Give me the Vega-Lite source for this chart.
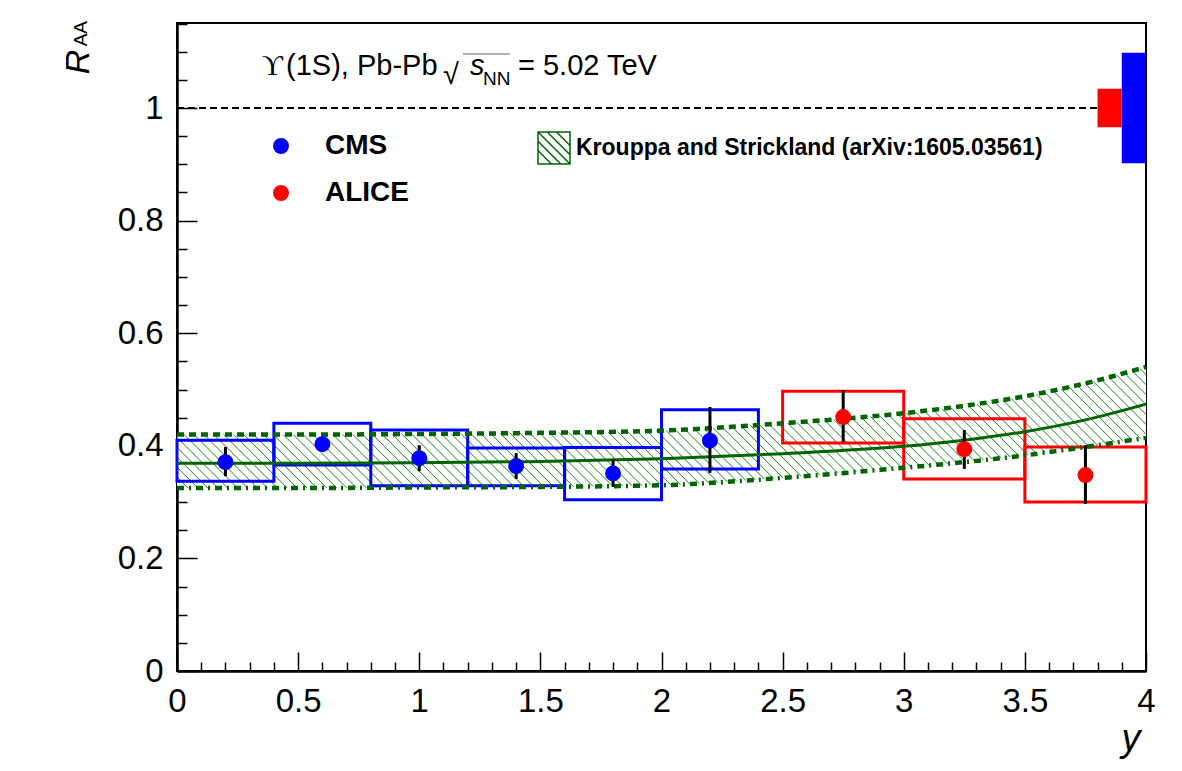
{
  "$schema": "https://vega.github.io/schema/vega-lite/v6.json",
  "width": 969,
  "height": 648,
  "autosize": {"type": "none"},
  "padding": {"left": 177, "top": 23, "right": 36, "bottom": 100},
  "background": "white",
  "config": {
    "view": {"stroke": "black", "strokeWidth": 2},
    "font": "Liberation Sans",
    "text": {"font": "Liberation Sans", "color": "black"},
    "axis": {"domainColor": "black", "domainWidth": 2, "tickColor": "black", "tickWidth": 1.5, "grid": false, "labelOverlap": false, "labelFlush": false}
  },
  "resolve": {"axis": {"x": "independent", "y": "independent"}},
  "datasets": {
    "meas": [
      {"exp": "CMS", "rap": 0.2, "rap_lo": 0.0, "rap_hi": 0.4, "raa": 0.371, "stat_lo": 0.346, "stat_hi": 0.398, "syst_lo": 0.337, "syst_hi": 0.410},
      {"exp": "CMS", "rap": 0.6, "rap_lo": 0.4, "rap_hi": 0.8, "raa": 0.403, "stat_lo": 0.390, "stat_hi": 0.416, "syst_lo": 0.366, "syst_hi": 0.440},
      {"exp": "CMS", "rap": 1.0, "rap_lo": 0.8, "rap_hi": 1.2, "raa": 0.378, "stat_lo": 0.355, "stat_hi": 0.401, "syst_lo": 0.329, "syst_hi": 0.428},
      {"exp": "CMS", "rap": 1.4, "rap_lo": 1.2, "rap_hi": 1.6, "raa": 0.364, "stat_lo": 0.341, "stat_hi": 0.387, "syst_lo": 0.329, "syst_hi": 0.396},
      {"exp": "CMS", "rap": 1.8, "rap_lo": 1.6, "rap_hi": 2.0, "raa": 0.351, "stat_lo": 0.327, "stat_hi": 0.376, "syst_lo": 0.304, "syst_hi": 0.397},
      {"exp": "CMS", "rap": 2.2, "rap_lo": 2.0, "rap_hi": 2.4, "raa": 0.409, "stat_lo": 0.352, "stat_hi": 0.469, "syst_lo": 0.359, "syst_hi": 0.464},
      {"exp": "ALICE", "rap": 2.75, "rap_lo": 2.5, "rap_hi": 3.0, "raa": 0.451, "stat_lo": 0.407, "stat_hi": 0.499, "syst_lo": 0.405, "syst_hi": 0.497},
      {"exp": "ALICE", "rap": 3.25, "rap_lo": 3.0, "rap_hi": 3.5, "raa": 0.394, "stat_lo": 0.359, "stat_hi": 0.428, "syst_lo": 0.341, "syst_hi": 0.448},
      {"exp": "ALICE", "rap": 3.75, "rap_lo": 3.5, "rap_hi": 4.0, "raa": 0.348, "stat_lo": 0.297, "stat_hi": 0.401, "syst_lo": 0.300, "syst_hi": 0.398}
    ],
    "global": [
      {"exp": "ALICE", "rap_lo": 3.8, "rap_hi": 3.9, "lo": 0.966, "hi": 1.034},
      {"exp": "CMS", "rap_lo": 3.9, "rap_hi": 4.0, "lo": 0.902, "hi": 1.098}
    ],
    "model": [
      {"rap": 0.0, "lo": 0.325, "mid": 0.369, "hi": 0.420},
      {"rap": 0.5, "lo": 0.325, "mid": 0.369, "hi": 0.420},
      {"rap": 1.0, "lo": 0.326, "mid": 0.370, "hi": 0.421},
      {"rap": 1.5, "lo": 0.327, "mid": 0.372, "hi": 0.423},
      {"rap": 2.0, "lo": 0.330, "mid": 0.377, "hi": 0.427},
      {"rap": 2.5, "lo": 0.343, "mid": 0.386, "hi": 0.440},
      {"rap": 3.0, "lo": 0.361, "mid": 0.399, "hi": 0.458},
      {"rap": 3.25, "lo": 0.371, "mid": 0.410, "hi": 0.471},
      {"rap": 3.5, "lo": 0.383, "mid": 0.425, "hi": 0.488},
      {"rap": 3.75, "lo": 0.398, "mid": 0.446, "hi": 0.511},
      {"rap": 4.0, "lo": 0.414, "mid": 0.474, "hi": 0.540}
    ]
  },
  "layer": [
    {
      "data": {"name": "model"},
      "mark": {
        "type": "area",
        "interpolate": "monotone",
        "fill": {
          "gradient": "linear",
          "x1": 0, "y1": 1, "x2": 1.12, "y2": 0.86,
          "stops": [
            {"offset":0,"color":"#fff"},{"offset":0.001,"color":"#2d8f2d"},{"offset":0.002,"color":"#fff"},
            {"offset":0.009,"color":"#fff"},{"offset":0.01,"color":"#2d8f2d"},{"offset":0.011,"color":"#fff"},
            {"offset":0.018,"color":"#fff"},{"offset":0.019,"color":"#2d8f2d"},{"offset":0.02,"color":"#fff"},
            {"offset":0.027,"color":"#fff"},{"offset":0.028,"color":"#2d8f2d"},{"offset":0.029,"color":"#fff"},
            {"offset":0.036,"color":"#fff"},{"offset":0.037,"color":"#2d8f2d"},{"offset":0.038,"color":"#fff"},
            {"offset":0.045,"color":"#fff"},{"offset":0.046,"color":"#2d8f2d"},{"offset":0.047,"color":"#fff"},
            {"offset":0.054,"color":"#fff"},{"offset":0.055,"color":"#2d8f2d"},{"offset":0.056,"color":"#fff"},
            {"offset":0.063,"color":"#fff"},{"offset":0.064,"color":"#2d8f2d"},{"offset":0.065,"color":"#fff"},
            {"offset":0.072,"color":"#fff"},{"offset":0.073,"color":"#2d8f2d"},{"offset":0.074,"color":"#fff"},
            {"offset":0.081,"color":"#fff"},{"offset":0.082,"color":"#2d8f2d"},{"offset":0.083,"color":"#fff"},
            {"offset":0.09,"color":"#fff"},{"offset":0.091,"color":"#2d8f2d"},{"offset":0.092,"color":"#fff"},
            {"offset":0.099,"color":"#fff"},{"offset":0.1,"color":"#2d8f2d"},{"offset":0.101,"color":"#fff"},
            {"offset":0.108,"color":"#fff"},{"offset":0.109,"color":"#2d8f2d"},{"offset":0.11,"color":"#fff"},
            {"offset":0.117,"color":"#fff"},{"offset":0.118,"color":"#2d8f2d"},{"offset":0.119,"color":"#fff"},
            {"offset":0.126,"color":"#fff"},{"offset":0.127,"color":"#2d8f2d"},{"offset":0.128,"color":"#fff"},
            {"offset":0.135,"color":"#fff"},{"offset":0.136,"color":"#2d8f2d"},{"offset":0.137,"color":"#fff"},
            {"offset":0.144,"color":"#fff"},{"offset":0.145,"color":"#2d8f2d"},{"offset":0.146,"color":"#fff"},
            {"offset":0.153,"color":"#fff"},{"offset":0.154,"color":"#2d8f2d"},{"offset":0.155,"color":"#fff"},
            {"offset":0.162,"color":"#fff"},{"offset":0.163,"color":"#2d8f2d"},{"offset":0.164,"color":"#fff"},
            {"offset":0.171,"color":"#fff"},{"offset":0.172,"color":"#2d8f2d"},{"offset":0.173,"color":"#fff"},
            {"offset":0.18,"color":"#fff"},{"offset":0.181,"color":"#2d8f2d"},{"offset":0.182,"color":"#fff"},
            {"offset":0.189,"color":"#fff"},{"offset":0.19,"color":"#2d8f2d"},{"offset":0.191,"color":"#fff"},
            {"offset":0.198,"color":"#fff"},{"offset":0.199,"color":"#2d8f2d"},{"offset":0.2,"color":"#fff"},
            {"offset":0.207,"color":"#fff"},{"offset":0.208,"color":"#2d8f2d"},{"offset":0.209,"color":"#fff"},
            {"offset":0.216,"color":"#fff"},{"offset":0.217,"color":"#2d8f2d"},{"offset":0.218,"color":"#fff"},
            {"offset":0.225,"color":"#fff"},{"offset":0.226,"color":"#2d8f2d"},{"offset":0.227,"color":"#fff"},
            {"offset":0.234,"color":"#fff"},{"offset":0.235,"color":"#2d8f2d"},{"offset":0.236,"color":"#fff"},
            {"offset":0.243,"color":"#fff"},{"offset":0.244,"color":"#2d8f2d"},{"offset":0.245,"color":"#fff"},
            {"offset":0.252,"color":"#fff"},{"offset":0.253,"color":"#2d8f2d"},{"offset":0.254,"color":"#fff"},
            {"offset":0.261,"color":"#fff"},{"offset":0.262,"color":"#2d8f2d"},{"offset":0.263,"color":"#fff"},
            {"offset":0.27,"color":"#fff"},{"offset":0.271,"color":"#2d8f2d"},{"offset":0.272,"color":"#fff"},
            {"offset":0.279,"color":"#fff"},{"offset":0.28,"color":"#2d8f2d"},{"offset":0.281,"color":"#fff"},
            {"offset":0.288,"color":"#fff"},{"offset":0.289,"color":"#2d8f2d"},{"offset":0.29,"color":"#fff"},
            {"offset":0.297,"color":"#fff"},{"offset":0.298,"color":"#2d8f2d"},{"offset":0.299,"color":"#fff"},
            {"offset":0.306,"color":"#fff"},{"offset":0.307,"color":"#2d8f2d"},{"offset":0.308,"color":"#fff"},
            {"offset":0.315,"color":"#fff"},{"offset":0.316,"color":"#2d8f2d"},{"offset":0.317,"color":"#fff"},
            {"offset":0.324,"color":"#fff"},{"offset":0.325,"color":"#2d8f2d"},{"offset":0.326,"color":"#fff"},
            {"offset":0.333,"color":"#fff"},{"offset":0.334,"color":"#2d8f2d"},{"offset":0.335,"color":"#fff"},
            {"offset":0.342,"color":"#fff"},{"offset":0.343,"color":"#2d8f2d"},{"offset":0.344,"color":"#fff"},
            {"offset":0.351,"color":"#fff"},{"offset":0.352,"color":"#2d8f2d"},{"offset":0.353,"color":"#fff"},
            {"offset":0.36,"color":"#fff"},{"offset":0.361,"color":"#2d8f2d"},{"offset":0.362,"color":"#fff"},
            {"offset":0.369,"color":"#fff"},{"offset":0.37,"color":"#2d8f2d"},{"offset":0.371,"color":"#fff"},
            {"offset":0.378,"color":"#fff"},{"offset":0.379,"color":"#2d8f2d"},{"offset":0.38,"color":"#fff"},
            {"offset":0.387,"color":"#fff"},{"offset":0.388,"color":"#2d8f2d"},{"offset":0.389,"color":"#fff"},
            {"offset":0.396,"color":"#fff"},{"offset":0.397,"color":"#2d8f2d"},{"offset":0.398,"color":"#fff"},
            {"offset":0.405,"color":"#fff"},{"offset":0.406,"color":"#2d8f2d"},{"offset":0.407,"color":"#fff"},
            {"offset":0.414,"color":"#fff"},{"offset":0.415,"color":"#2d8f2d"},{"offset":0.416,"color":"#fff"},
            {"offset":0.423,"color":"#fff"},{"offset":0.424,"color":"#2d8f2d"},{"offset":0.425,"color":"#fff"},
            {"offset":0.432,"color":"#fff"},{"offset":0.433,"color":"#2d8f2d"},{"offset":0.434,"color":"#fff"},
            {"offset":0.441,"color":"#fff"},{"offset":0.442,"color":"#2d8f2d"},{"offset":0.443,"color":"#fff"},
            {"offset":0.45,"color":"#fff"},{"offset":0.451,"color":"#2d8f2d"},{"offset":0.452,"color":"#fff"},
            {"offset":0.459,"color":"#fff"},{"offset":0.46,"color":"#2d8f2d"},{"offset":0.461,"color":"#fff"},
            {"offset":0.468,"color":"#fff"},{"offset":0.469,"color":"#2d8f2d"},{"offset":0.47,"color":"#fff"},
            {"offset":0.477,"color":"#fff"},{"offset":0.478,"color":"#2d8f2d"},{"offset":0.479,"color":"#fff"},
            {"offset":0.486,"color":"#fff"},{"offset":0.487,"color":"#2d8f2d"},{"offset":0.488,"color":"#fff"},
            {"offset":0.495,"color":"#fff"},{"offset":0.496,"color":"#2d8f2d"},{"offset":0.497,"color":"#fff"},
            {"offset":0.504,"color":"#fff"},{"offset":0.505,"color":"#2d8f2d"},{"offset":0.506,"color":"#fff"},
            {"offset":0.513,"color":"#fff"},{"offset":0.514,"color":"#2d8f2d"},{"offset":0.515,"color":"#fff"},
            {"offset":0.522,"color":"#fff"},{"offset":0.523,"color":"#2d8f2d"},{"offset":0.524,"color":"#fff"},
            {"offset":0.531,"color":"#fff"},{"offset":0.532,"color":"#2d8f2d"},{"offset":0.533,"color":"#fff"},
            {"offset":0.54,"color":"#fff"},{"offset":0.541,"color":"#2d8f2d"},{"offset":0.542,"color":"#fff"},
            {"offset":0.549,"color":"#fff"},{"offset":0.55,"color":"#2d8f2d"},{"offset":0.551,"color":"#fff"},
            {"offset":0.558,"color":"#fff"},{"offset":0.559,"color":"#2d8f2d"},{"offset":0.56,"color":"#fff"},
            {"offset":0.567,"color":"#fff"},{"offset":0.568,"color":"#2d8f2d"},{"offset":0.569,"color":"#fff"},
            {"offset":0.576,"color":"#fff"},{"offset":0.577,"color":"#2d8f2d"},{"offset":0.578,"color":"#fff"},
            {"offset":0.585,"color":"#fff"},{"offset":0.586,"color":"#2d8f2d"},{"offset":0.587,"color":"#fff"},
            {"offset":0.594,"color":"#fff"},{"offset":0.595,"color":"#2d8f2d"},{"offset":0.596,"color":"#fff"},
            {"offset":0.603,"color":"#fff"},{"offset":0.604,"color":"#2d8f2d"},{"offset":0.605,"color":"#fff"},
            {"offset":0.612,"color":"#fff"},{"offset":0.613,"color":"#2d8f2d"},{"offset":0.614,"color":"#fff"},
            {"offset":0.621,"color":"#fff"},{"offset":0.622,"color":"#2d8f2d"},{"offset":0.623,"color":"#fff"},
            {"offset":0.63,"color":"#fff"},{"offset":0.631,"color":"#2d8f2d"},{"offset":0.632,"color":"#fff"},
            {"offset":0.639,"color":"#fff"},{"offset":0.64,"color":"#2d8f2d"},{"offset":0.641,"color":"#fff"},
            {"offset":0.648,"color":"#fff"},{"offset":0.649,"color":"#2d8f2d"},{"offset":0.65,"color":"#fff"},
            {"offset":0.657,"color":"#fff"},{"offset":0.658,"color":"#2d8f2d"},{"offset":0.659,"color":"#fff"},
            {"offset":0.666,"color":"#fff"},{"offset":0.667,"color":"#2d8f2d"},{"offset":0.668,"color":"#fff"},
            {"offset":0.675,"color":"#fff"},{"offset":0.676,"color":"#2d8f2d"},{"offset":0.677,"color":"#fff"},
            {"offset":0.684,"color":"#fff"},{"offset":0.685,"color":"#2d8f2d"},{"offset":0.686,"color":"#fff"},
            {"offset":0.693,"color":"#fff"},{"offset":0.694,"color":"#2d8f2d"},{"offset":0.695,"color":"#fff"},
            {"offset":0.702,"color":"#fff"},{"offset":0.703,"color":"#2d8f2d"},{"offset":0.704,"color":"#fff"},
            {"offset":0.711,"color":"#fff"},{"offset":0.712,"color":"#2d8f2d"},{"offset":0.713,"color":"#fff"},
            {"offset":0.72,"color":"#fff"},{"offset":0.721,"color":"#2d8f2d"},{"offset":0.722,"color":"#fff"},
            {"offset":0.729,"color":"#fff"},{"offset":0.73,"color":"#2d8f2d"},{"offset":0.731,"color":"#fff"},
            {"offset":0.738,"color":"#fff"},{"offset":0.739,"color":"#2d8f2d"},{"offset":0.74,"color":"#fff"},
            {"offset":0.747,"color":"#fff"},{"offset":0.748,"color":"#2d8f2d"},{"offset":0.749,"color":"#fff"},
            {"offset":0.756,"color":"#fff"},{"offset":0.757,"color":"#2d8f2d"},{"offset":0.758,"color":"#fff"},
            {"offset":0.765,"color":"#fff"},{"offset":0.766,"color":"#2d8f2d"},{"offset":0.767,"color":"#fff"},
            {"offset":0.774,"color":"#fff"},{"offset":0.775,"color":"#2d8f2d"},{"offset":0.776,"color":"#fff"},
            {"offset":0.783,"color":"#fff"},{"offset":0.784,"color":"#2d8f2d"},{"offset":0.785,"color":"#fff"},
            {"offset":0.792,"color":"#fff"},{"offset":0.793,"color":"#2d8f2d"},{"offset":0.794,"color":"#fff"},
            {"offset":0.801,"color":"#fff"},{"offset":0.802,"color":"#2d8f2d"},{"offset":0.803,"color":"#fff"},
            {"offset":0.81,"color":"#fff"},{"offset":0.811,"color":"#2d8f2d"},{"offset":0.812,"color":"#fff"},
            {"offset":0.819,"color":"#fff"},{"offset":0.82,"color":"#2d8f2d"},{"offset":0.821,"color":"#fff"},
            {"offset":0.828,"color":"#fff"},{"offset":0.829,"color":"#2d8f2d"},{"offset":0.83,"color":"#fff"},
            {"offset":0.837,"color":"#fff"},{"offset":0.838,"color":"#2d8f2d"},{"offset":0.839,"color":"#fff"},
            {"offset":0.846,"color":"#fff"},{"offset":0.847,"color":"#2d8f2d"},{"offset":0.848,"color":"#fff"},
            {"offset":0.855,"color":"#fff"},{"offset":0.856,"color":"#2d8f2d"},{"offset":0.857,"color":"#fff"},
            {"offset":0.864,"color":"#fff"},{"offset":0.865,"color":"#2d8f2d"},{"offset":0.866,"color":"#fff"},
            {"offset":0.873,"color":"#fff"},{"offset":0.874,"color":"#2d8f2d"},{"offset":0.875,"color":"#fff"},
            {"offset":0.882,"color":"#fff"},{"offset":0.883,"color":"#2d8f2d"},{"offset":0.884,"color":"#fff"},
            {"offset":0.891,"color":"#fff"},{"offset":0.892,"color":"#2d8f2d"},{"offset":0.893,"color":"#fff"},
            {"offset":0.9,"color":"#fff"},{"offset":0.901,"color":"#2d8f2d"},{"offset":0.902,"color":"#fff"},
            {"offset":0.909,"color":"#fff"},{"offset":0.91,"color":"#2d8f2d"},{"offset":0.911,"color":"#fff"},
            {"offset":0.918,"color":"#fff"},{"offset":0.919,"color":"#2d8f2d"},{"offset":0.92,"color":"#fff"},
            {"offset":0.927,"color":"#fff"},{"offset":0.928,"color":"#2d8f2d"},{"offset":0.929,"color":"#fff"},
            {"offset":0.936,"color":"#fff"},{"offset":0.937,"color":"#2d8f2d"},{"offset":0.938,"color":"#fff"},
            {"offset":0.945,"color":"#fff"},{"offset":0.946,"color":"#2d8f2d"},{"offset":0.947,"color":"#fff"},
            {"offset":0.954,"color":"#fff"},{"offset":0.955,"color":"#2d8f2d"},{"offset":0.956,"color":"#fff"},
            {"offset":0.963,"color":"#fff"},{"offset":0.964,"color":"#2d8f2d"},{"offset":0.965,"color":"#fff"},
            {"offset":0.972,"color":"#fff"},{"offset":0.973,"color":"#2d8f2d"},{"offset":0.974,"color":"#fff"},
            {"offset":0.981,"color":"#fff"},{"offset":0.982,"color":"#2d8f2d"},{"offset":0.983,"color":"#fff"},
            {"offset":0.99,"color":"#fff"},{"offset":0.991,"color":"#2d8f2d"},{"offset":0.992,"color":"#fff"}
          ]
        }
      },
      "encoding": {
        "x": {
          "field": "rap", "type": "quantitative",
          "scale": {"domain": [0, 4], "nice": false, "zero": false},
          "axis": {
            "orient": "bottom",
            "values": [0, 0.5, 1, 1.5, 2, 2.5, 3, 3.5, 4],
            "tickSize": -19,
            "labelExpr": "toString(datum.value)",
            "labelFont": "Liberation Sans", "labelFontSize": 33, "labelColor": "black",
            "labelPadding": 33,
            "title": "y", "titleFont": "Liberation Sans", "titleFontSize": 38, "titleFontStyle": "italic", "titleFontWeight": "normal",
            "titleColor": "black", "titleAlign": "right", "titleAnchor": "end", "titleBaseline": "alphabetic", "titleX": 963, "titleY": 79
          }
        },
        "y": {
          "field": "lo", "type": "quantitative",
          "scale": {"domain": [0, 1.151], "nice": false, "zero": false},
          "axis": {
            "orient": "left",
            "values": [0, 0.2, 0.4, 0.6, 0.8, 1],
            "tickSize": -20,
            "labelExpr": "toString(datum.value)",
            "labelFont": "Liberation Sans", "labelFontSize": 33, "labelColor": "black",
            "labelPadding": 34,
            "title": null
          }
        },
        "y2": {"field": "hi"}
      }
    },
    {
      "data": {"name": "meas"},
      "transform": [{"filter": "datum.exp == 'CMS'"}],
      "mark": {"type": "rect", "filled": false, "color": "#0000ff", "strokeWidth": 3},
      "encoding": {
        "x": {
          "field": "rap_lo", "type": "quantitative",
          "axis": {
            "orient": "bottom", "labels": false, "title": null, "tickSize": -9,
            "values": [0.1,0.2,0.3,0.4,0.6,0.7,0.8,0.9,1.1,1.2,1.3,1.4,1.6,1.7,1.8,1.9,2.1,2.2,2.3,2.4,2.6,2.7,2.8,2.9,3.1,3.2,3.3,3.4,3.6,3.7,3.8,3.9]
          }
        },
        "x2": {"field": "rap_hi"},
        "y": {
          "field": "syst_lo", "type": "quantitative",
          "axis": {
            "orient": "left", "labels": false, "title": null, "tickSize": -10,
            "values": [0.05,0.1,0.15,0.25,0.3,0.35,0.45,0.5,0.55,0.65,0.7,0.75,0.85,0.9,0.95,1.05,1.1,1.15]
          }
        },
        "y2": {"field": "syst_hi"}
      }
    },
    {
      "data": {"name": "meas"},
      "transform": [{"filter": "datum.exp == 'ALICE'"}],
      "mark": {"type": "rect", "filled": false, "color": "#ff0000", "strokeWidth": 3},
      "encoding": {
        "x": {"field": "rap_lo", "type": "quantitative", "axis": null},
        "x2": {"field": "rap_hi"},
        "y": {"field": "syst_lo", "type": "quantitative", "axis": null},
        "y2": {"field": "syst_hi"}
      }
    },
    {
      "data": {"name": "global"},
      "transform": [{"filter": "datum.exp == 'CMS'"}],
      "mark": {"type": "rect", "color": "#0000ff", "opacity": 1},
      "encoding": {
        "x": {"field": "rap_lo", "type": "quantitative", "axis": null},
        "x2": {"field": "rap_hi"},
        "y": {"field": "lo", "type": "quantitative", "axis": null},
        "y2": {"field": "hi"}
      }
    },
    {
      "data": {"name": "global"},
      "transform": [{"filter": "datum.exp == 'ALICE'"}],
      "mark": {"type": "rect", "color": "#ff0000", "opacity": 1},
      "encoding": {
        "x": {"field": "rap_lo", "type": "quantitative", "axis": null},
        "x2": {"field": "rap_hi"},
        "y": {"field": "lo", "type": "quantitative", "axis": null},
        "y2": {"field": "hi"}
      }
    },
    {
      "data": {"values": [{}]},
      "mark": {"type": "rule", "color": "black", "strokeWidth": 2, "strokeDash": [7, 4]},
      "encoding": {
        "x": {"datum": 0, "type": "quantitative", "axis": null},
        "x2": {"datum": 3.8},
        "y": {"datum": 1, "type": "quantitative", "axis": null}
      }
    },
    {
      "data": {"name": "model"},
      "mark": {"type": "line", "interpolate": "monotone", "color": "#006400", "strokeWidth": 4.5, "strokeDash": [7, 5]},
      "encoding": {
        "x": {"field": "rap", "type": "quantitative", "axis": null},
        "y": {"field": "hi", "type": "quantitative", "axis": null}
      }
    },
    {
      "data": {"name": "model"},
      "mark": {"type": "line", "interpolate": "monotone", "color": "#006400", "strokeWidth": 4.5, "strokeDash": [7, 5, 2, 5]},
      "encoding": {
        "x": {"field": "rap", "type": "quantitative", "axis": null},
        "y": {"field": "lo", "type": "quantitative", "axis": null}
      }
    },
    {
      "data": {"name": "model"},
      "mark": {"type": "line", "interpolate": "monotone", "strokeWidth": 3},
      "encoding": {
        "x": {"field": "rap", "type": "quantitative", "axis": null},
        "y": {"field": "mid", "type": "quantitative", "axis": null},
        "stroke": {
          "datum": "Krouppa and Strickland (arXiv:1605.03561)",
          "type": "nominal",
          "scale": {"range": ["#006400"]},
          "legend": {
            "orient": "none", "legendX": 360, "legendY": 108, "title": null, "padding": 0,
            "symbolType": "M-1,-1H1V1H-1Z M-1,-0.42L0.42,1 M-1,0.16L-0.16,1 M-0.42,-1L1,0.42 M0.16,-1L1,-0.16 M-1,-1L1,1",
            "symbolSize": 1024, "symbolStrokeWidth": 1.5, "symbolFillColor": "white",
            "labelFont": "Liberation Sans", "labelFontSize": 23, "labelFontWeight": "bold", "labelColor": "black",
            "labelOffset": 5, "labelLimit": 700
          }
        }
      }
    },
    {
      "data": {"name": "meas"},
      "mark": {"type": "rule", "color": "black", "strokeWidth": 3},
      "encoding": {
        "x": {"field": "rap", "type": "quantitative", "axis": null},
        "y": {"field": "stat_lo", "type": "quantitative", "axis": null},
        "y2": {"field": "stat_hi"}
      }
    },
    {
      "data": {"name": "meas"},
      "mark": {"type": "circle", "size": 254, "opacity": 1},
      "encoding": {
        "x": {"field": "rap", "type": "quantitative", "axis": null},
        "y": {"field": "raa", "type": "quantitative", "axis": null},
        "color": {
          "field": "exp", "type": "nominal",
          "scale": {"domain": ["CMS", "ALICE"], "range": ["#0000ff", "#ff0000"]},
          "legend": {
            "orient": "none", "legendX": 90, "legendY": 109, "title": null, "padding": 0,
            "symbolType": "circle", "symbolSize": 254, "symbolStrokeWidth": 0, "symbolOpacity": 1,
            "labelFont": "Liberation Sans", "labelFontSize": 28, "labelFontWeight": "bold", "labelColor": "black",
            "labelOffset": 30, "rowPadding": 19
          }
        }
      }
    },
    {
      "data": {"values": [{}]},
      "mark": {"type": "text", "text": "ϒ", "align": "left", "baseline": "alphabetic", "fontSize": 29, "font": "Liberation Serif"},
      "encoding": {
        "x": {"datum": 0.351, "type": "quantitative", "axis": null},
        "y": {"datum": 1.0586, "type": "quantitative", "axis": null}
      }
    },
    {
      "data": {"values": [{}]},
      "mark": {"type": "text", "text": "(1S), Pb-Pb", "align": "left", "baseline": "alphabetic", "fontSize": 29},
      "encoding": {
        "x": {"datum": 0.45, "type": "quantitative", "axis": null},
        "y": {"datum": 1.0586, "type": "quantitative", "axis": null}
      }
    },
    {
      "data": {"values": [{}]},
      "mark": {"type": "text", "text": "√", "align": "left", "baseline": "alphabetic", "fontSize": 29},
      "encoding": {
        "x": {"datum": 1.098, "type": "quantitative", "axis": null},
        "y": {"datum": 1.0426, "type": "quantitative", "axis": null}
      }
    },
    {
      "data": {"values": [{}]},
      "mark": {"type": "rule", "color": "#666666", "strokeWidth": 1.2},
      "encoding": {
        "x": {"datum": 1.18, "type": "quantitative", "axis": null},
        "x2": {"datum": 1.375},
        "y": {"datum": 1.0959, "type": "quantitative", "axis": null}
      }
    },
    {
      "data": {"values": [{}]},
      "mark": {"type": "text", "text": "s", "align": "left", "baseline": "alphabetic", "fontSize": 29, "fontStyle": "italic"},
      "encoding": {
        "x": {"datum": 1.2095, "type": "quantitative", "axis": null},
        "y": {"datum": 1.0586, "type": "quantitative", "axis": null}
      }
    },
    {
      "data": {"values": [{}]},
      "mark": {"type": "text", "text": "NN", "align": "left", "baseline": "alphabetic", "fontSize": 19},
      "encoding": {
        "x": {"datum": 1.2632, "type": "quantitative", "axis": null},
        "y": {"datum": 1.0409, "type": "quantitative", "axis": null}
      }
    },
    {
      "data": {"values": [{}]},
      "mark": {"type": "text", "text": "= 5.02 TeV", "align": "left", "baseline": "alphabetic", "fontSize": 29},
      "encoding": {
        "x": {"datum": 1.4076, "type": "quantitative", "axis": null},
        "y": {"datum": 1.0586, "type": "quantitative", "axis": null}
      }
    },
    {
      "data": {"values": [{}]},
      "mark": {"type": "text", "text": "R", "align": "center", "baseline": "alphabetic", "angle": 270, "fontSize": 34, "fontStyle": "italic"},
      "encoding": {
        "x": {"datum": -0.363, "type": "quantitative", "axis": null},
        "y": {"datum": 1.082, "type": "quantitative", "axis": null}
      }
    },
    {
      "data": {"values": [{}]},
      "mark": {"type": "text", "text": "AA", "align": "center", "baseline": "alphabetic", "angle": 270, "fontSize": 19},
      "encoding": {
        "x": {"datum": -0.371, "type": "quantitative", "axis": null},
        "y": {"datum": 1.132, "type": "quantitative", "axis": null}
      }
    }
  ]
}
